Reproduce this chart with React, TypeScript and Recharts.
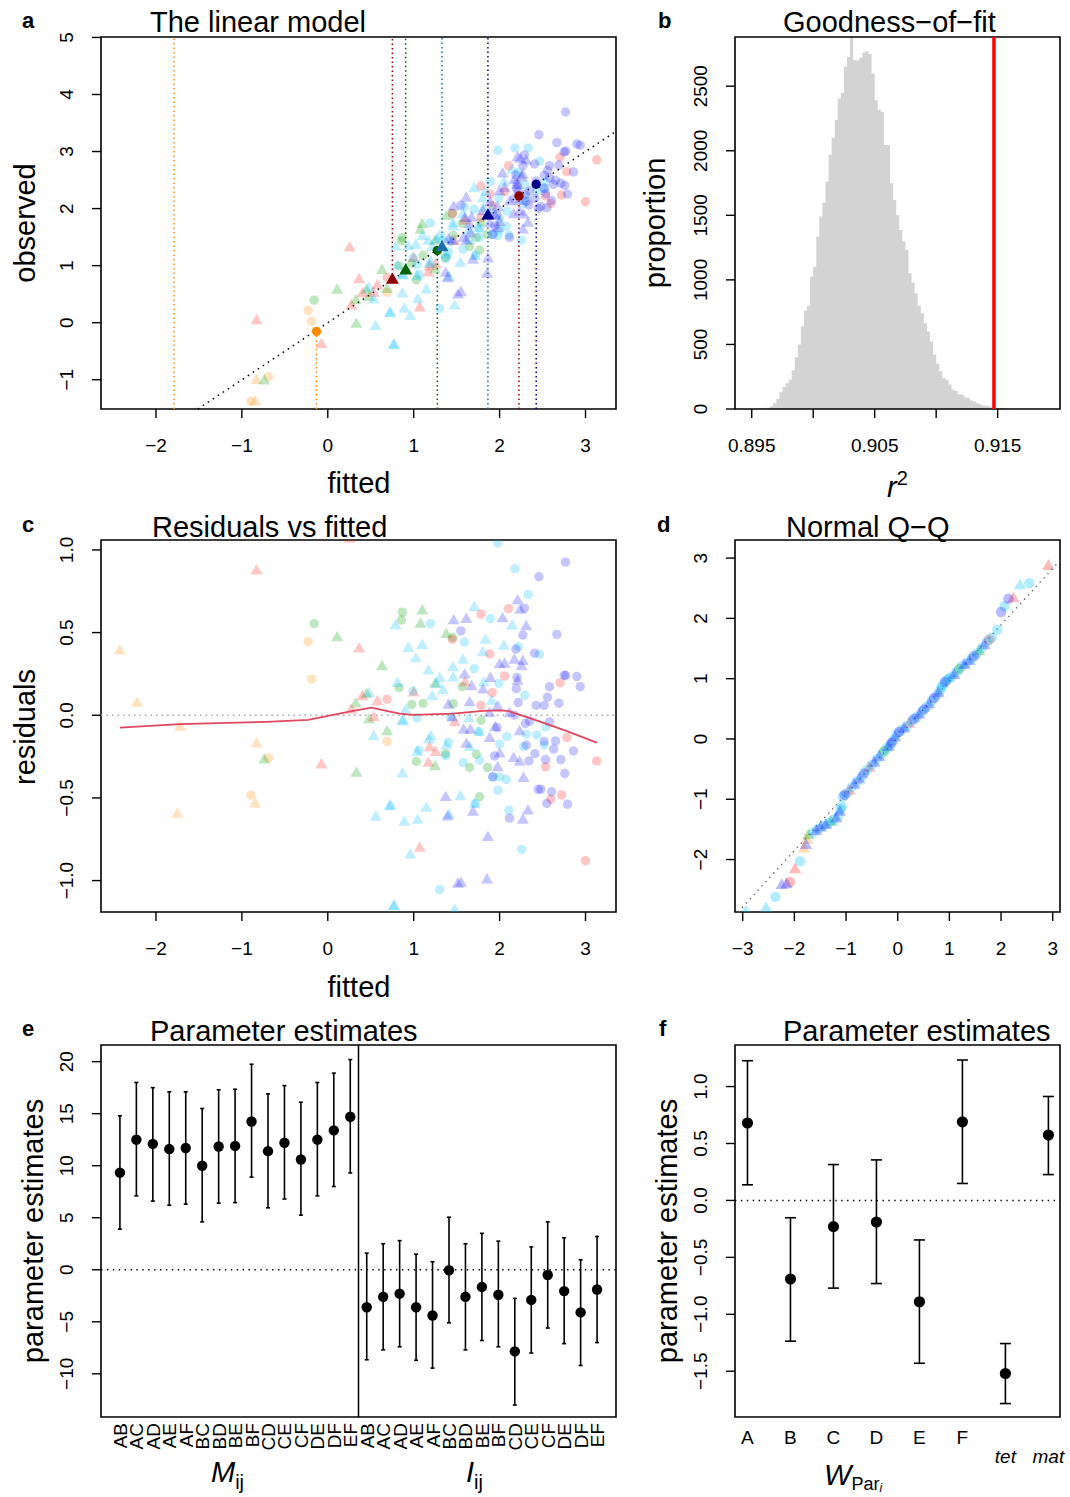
import React from "react";
import {
  ComposedChart,
  Scatter,
  Area,
  XAxis,
  YAxis,
  ReferenceLine,
  ReferenceArea,
  ErrorBar,
} from "recharts";

const FONT = "'Liberation Sans', Arial, Helvetica, sans-serif";

// fitted value, residual, symbol (c = circle, t = triangle) per colour group
const resOrange: any[] = [
  [-0.229, 0.445, "c"], [-0.19, 0.218, "c"], [-0.69, -0.258, "c"], [-0.895, -0.483, "c"], [0.69, -0.159, "c"],
  [-2.42, 0.393, "t"], [-2.22, 0.077, "t"], [-1.72, -0.068, "t"], [-1.75, -0.594, "t"], [-0.83, -0.169, "t"],
  [-0.845, -0.532, "t"],
];
const resGreen: any[] = [
  [-0.159, 0.554, "c"], [0.829, 0.167, "c"], [0.868, 0.624, "c"], [0.857, 0.576, "c"], [1.45, 0.47, "c"],
  [0.977, 0.065, "c"], [1.109, 0.072, "c"], [1.46, 0.07, "c"], [1.031, -0.28, "c"], [1.372, -0.232, "c"],
  [1.566, 0.173, "c"], [1.783, -0.03, "c"], [1.729, -0.236, "c"], [1.651, -0.316, "c"], [1.86, -0.316, "c"],
  [1.767, -0.493, "c"],
  [-0.74, -0.266, "t"], [0.109, 0.473, "t"], [0.333, -0.346, "t"], [0.632, 0.298, "t"], [0.45, 0.131, "t"],
  [0.326, 0.073, "t"], [0.48, -0.024, "t"], [0.69, -0.095, "t"], [1.1, 0.636, "t"], [1.078, 0.556, "t"],
  [1.38, 0.494, "t"], [1.248, 0.193, "t"], [1.248, -0.306, "t"],
];
const resRed: any[] = [
  [-0.83, 0.878, "t"], [0.256, 1.07, "t"], [0.364, 0.405, "t"], [-0.074, -0.296, "t"], [0.403, 0.117, "t"],
  [0.578, 0.087, "t"], [0.275, 0.036, "t"], [0.535, -0.01, "t"], [1.0, 0.14, "t"], [1.186, -0.191, "t"],
  [1.256, -0.22, "t"], [1.171, -0.286, "t"], [1.07, -0.8, "t"], [1.597, 0.201, "t"], [1.477, -0.04, "t"],
  [0.69, 0.097, "c"], [1.45, 0.459, "c"], [2.105, 0.645, "c"], [1.783, 0.612, "c"], [1.887, 0.371, "c"],
  [2.058, 0.237, "c"], [1.915, 0.137, "c"], [1.783, 0.06, "c"], [2.705, 0.197, "c"], [2.783, -0.135, "c"],
  [3.131, -0.276, "c"], [2.535, -0.312, "c"], [2.721, -0.482, "c"], [2.597, -0.508, "c"], [3.0, -0.88, "c"],
];
const resSky: any[] = [
  [0.48, 0.137, "t"], [0.535, -0.125, "t"], [0.558, -0.612, "t"], [0.729, -0.544, "t"], [0.767, -1.152, "t"],
  [0.868, -0.35, "t"], [0.79, 0.546, "t"], [0.81, 0.197, "t"], [0.876, -0.028, "t"], [0.938, 0.409, "t"],
  [1.1, 0.427, "t"], [1.023, 0.346, "t"], [1.171, 0.272, "t"], [1.457, 0.292, "t"], [1.46, 0.23, "t"],
  [1.302, 0.228, "t"], [1.27, 0.193, "t"], [1.341, 0.153, "t"], [1.217, 0.117, "t"], [0.907, 0.036, "t"],
  [0.868, -0.036, "t"], [1.178, -0.145, "t"], [1.2, -0.125, "t"], [1.38, -0.18, "t"], [1.04, -0.22, "t"],
  [0.721, -0.548, "t"], [1.147, -0.558, "t"], [0.891, -0.642, "t"], [1.047, -0.63, "t"], [1.41, -0.6, "t"],
  [0.961, -0.84, "t"], [0.771, -1.152, "t"], [1.477, -1.172, "t"], [1.705, 0.657, "t"], [1.837, 0.459, "t"],
  [2.05, 0.423, "t"], [1.806, 0.383, "t"], [1.574, 0.338, "t"], [1.814, 0.201, "t"], [1.907, 0.089, "t"],
  [1.643, -0.016, "t"], [1.76, -0.099, "t"], [1.65, -0.19, "t"], [1.543, -0.488, "t"], [1.709, -0.534, "t"],
  [2.147, 0.544, "t"],
  [0.992, 0.147, "c"], [1.194, 0.554, "c"], [1.039, -0.016, "c"], [1.43, -0.01, "c"], [1.403, -0.165, "c"],
  [1.062, -0.211, "c"], [1.37, -0.245, "c"], [1.302, -1.055, "c"], [1.98, 1.043, "c"], [2.178, 0.886, "c"],
  [2.333, 0.731, "c"], [1.891, 0.584, "c"], [1.59, 0.443, "c"], [2.217, 0.415, "c"], [1.705, 0.282, "c"],
  [1.992, 0.193, "c"], [2.294, 0.121, "c"], [2.085, -0.129, "c"], [2.31, -0.115, "c"], [2.434, -0.119, "c"],
  [2.0, -0.175, "c"], [1.574, -0.286, "c"], [1.767, -0.272, "c"], [2.28, -0.19, "c"], [1.922, -0.373, "c"],
  [2.0, -0.373, "c"], [2.078, -0.389, "c"], [1.98, -0.453, "c"], [1.72, -0.534, "c"], [2.109, -0.574, "c"],
  [2.256, -0.811, "c"], [2.465, 0.369, "c"], [2.535, -0.071, "c"], [2.52, -0.18, "c"], [1.76, -0.099, "c"],
];
const resBlue: any[] = [
  [1.465, 0.576, "t"], [1.403, 0.065, "t"], [1.45, -0.01, "t"], [1.372, -0.493, "t"], [1.395, -0.61, "t"],
  [1.515, -1.017, "t"], [2.209, 0.697, "t"], [2.24, 0.64, "t"], [2.035, 0.588, "t"], [1.612, 0.584, "t"],
  [2.31, 0.54, "t"], [2.171, 0.338, "t"], [2.058, 0.314, "t"], [2.256, 0.298, "t"], [1.593, 0.248, "t"],
  [1.891, 0.228, "t"], [2.21, 0.21, "t"], [1.674, 0.177, "t"], [1.806, 0.157, "t"], [1.651, 0.08, "t"],
  [1.977, 0.056, "t"], [2.116, 0.016, "t"], [1.88, 0.016, "t"], [1.581, -0.085, "t"], [1.66, -0.085, "t"],
  [1.884, -0.135, "t"], [2.233, -0.095, "t"], [1.613, -0.171, "t"], [2.0, -0.23, "t"], [2.163, -0.256, "t"],
  [2.233, -0.28, "t"], [1.977, -0.312, "t"], [2.279, -0.377, "t"], [1.69, -0.582, "t"], [2.33, -0.574, "t"],
  [2.271, -0.63, "t"], [1.864, -0.735, "t"], [1.853, -0.991, "t"], [1.55, -1.011, "t"], [2.0, 0.31, "t"],
  [2.27, 0.33, "t"], [1.95, -0.07, "t"],
  [2.457, 0.838, "c"], [2.29, 0.648, "c"], [2.271, 0.485, "c"], [1.55, 0.51, "c"], [2.19, 0.4, "c"],
  [2.407, 0.375, "c"], [2.202, 0.228, "c"], [2.194, 0.161, "c"], [2.217, 0.077, "c"], [2.426, 0.06, "c"],
  [2.171, 0.0, "c"], [2.35, -0.036, "c"], [1.969, -0.074, "c"], [1.942, -0.246, "c"], [2.31, -0.18, "c"],
  [2.341, -0.276, "c"], [2.411, -0.232, "c"], [1.92, -0.373, "c"], [2.45, -0.449, "c"], [2.116, -0.622, "c"],
  [2.767, 0.926, "c"], [2.667, 0.489, "c"], [2.752, 0.242, "c"], [2.77, 0.24, "c"], [2.899, 0.234, "c"],
  [2.581, 0.173, "c"], [2.938, 0.173, "c"], [2.558, 0.109, "c"], [2.69, 0.073, "c"], [2.52, 0.06, "c"],
  [2.581, -0.04, "c"], [2.519, -0.159, "c"], [2.651, -0.155, "c"], [2.628, -0.205, "c"], [2.86, -0.216, "c"],
  [2.535, -0.268, "c"], [2.713, -0.268, "c"], [2.759, -0.352, "c"], [2.48, -0.447, "c"], [2.605, -0.463, "c"],
  [2.55, -0.534, "c"], [2.791, -0.538, "c"], [2.3, -0.05, "c"],
];

// highlighted experiments in panel a
const keyFitted = [-0.132, 0.752, 0.907, 1.275, 1.33, 1.864, 2.225, 2.426];
const keyObserved = [-0.152, 0.764, 0.927, 1.265, 1.335, 1.889, 2.22, 2.426];
const keyKind = ["c", "t", "t", "c", "t", "t", "c", "c"];

// dotted guides in panel a: x, lower end, upper end
const guideX = [-1.79, -0.132, 0.752, 0.907, 1.275, 1.33, 1.864, 1.864, 2.225, 2.426];
const guideLo = [-1.513, -1.513, 0.764, 0.927, -1.513, 1.335, 1.889, -1.513, -1.513, -1.513];
const guideHi = [5.008, -0.152, 5.008, 5.008, 1.265, 5.008, 5.008, 1.889, 2.22, 2.426];

// smoother in panel c
const lowessFitted = [-2.419, -1.721, -0.713, -0.229, 0.295, 0.508, 0.682, 0.837, 0.992, 1.457, 1.806, 2.0, 2.097, 2.388, 2.775, 3.132];
const lowessResid = [-0.075, -0.054, -0.04, -0.028, 0.026, 0.046, 0.026, 0.01, 0.002, 0.01, 0.026, 0.03, 0.026, -0.024, -0.095, -0.165];

// panel b: histogram of r^2
const binStart = 0.8955;
const binWidth = 0.00025;
const binCounts = [
  3, 5, 8, 12, 22, 45, 80, 130, 170, 200, 227, 300, 400, 500, 640, 760, 800, 1026, 1100, 1335,
  1490, 1600, 1761, 1967, 2100, 2238, 2405, 2450, 2650, 2727, 2950, 2700, 2700, 2720, 2760, 2770, 2750, 2599, 2392, 2315,
  2300, 2044, 2044, 1748, 1619, 1500, 1387, 1300, 1232, 1052, 980, 897, 800, 742, 665, 600, 523, 420, 350, 292,
  240, 227, 190, 150, 140, 115, 110, 90, 85, 65, 59, 45, 35, 26, 26, 20, 15, 10, 8, 5,
  4, 3, 2,
];
const observedR2 = 0.9147;

// panel d: normal Q-Q (theoretical, sample, group, symbol)
const qqPts: any[] = [
  [-2.935, -2.856, "c", "t"], [-2.548, -2.8, "c", "t"], [-2.368, -2.619, "c", "c"], [-2.245, -2.415, "b", "t"],
  [-2.15, -2.4, "b", "t"], [-2.084, -2.37, "r", "c"], [-1.987, -2.155, "r", "t"], [-1.89, -2.029, "c", "c"],
  [-1.813, -1.808, "o", "t"], [-1.774, -1.753, "b", "t"], [-1.76, -1.67, "o", "t"], [-1.729, -1.588, "g", "t"],
  [-1.632, -1.549, "c", "c"], [-1.535, -1.488, "c", "c"], [-1.439, -1.439, "c", "c"], [-1.342, -1.395, "c", "c"],
  [-1.245, -1.34, "c", "c"], [-1.148, -1.273, "c", "c"], [-1.103, -1.163, "c", "c"], [-1.084, -1.119, "c", "c"],
  [-1.065, -0.954, "c", "c"], [-0.987, -0.899, "c", "c"], [-0.89, -0.799, "c", "c"], [-0.794, -0.706, "c", "c"],
  [-0.697, -0.623, "c", "c"], [-0.6, -0.513, "c", "c"], [-0.503, -0.43, "c", "c"], [-0.406, -0.336, "c", "c"],
  [-0.31, -0.248, "c", "c"], [-0.213, -0.154, "c", "c"], [-0.148, -0.099, "c", "c"], [-0.084, -0.017, "c", "c"],
  [-0.019, 0.083, "c", "c"], [0.077, 0.149, "c", "c"], [0.174, 0.215, "c", "c"], [0.271, 0.298, "c", "c"],
  [0.368, 0.369, "c", "c"], [0.465, 0.452, "c", "c"], [0.561, 0.535, "c", "c"], [0.658, 0.634, "c", "c"],
  [0.755, 0.728, "c", "c"], [0.819, 0.81, "c", "c"], [0.884, 0.91, "c", "c"], [0.948, 0.976, "c", "c"],
  [1.045, 1.031, "c", "c"], [1.142, 1.114, "c", "c"], [1.239, 1.207, "c", "c"], [1.335, 1.262, "c", "c"],
  [1.432, 1.334, "c", "c"], [1.529, 1.417, "c", "c"], [1.626, 1.51, "c", "c"], [1.723, 1.61, "c", "c"],
  [1.819, 1.681, "c", "c"],
  [-1.58, -1.52, "b", "t"], [-1.49, -1.46, "b", "t"], [-1.39, -1.42, "b", "t"], [-1.29, -1.37, "g", "t"],
  [-1.19, -1.31, "b", "t"], [-1.12, -1.2, "b", "t"], [-1.03, -0.93, "b", "c"], [-0.94, -0.85, "r", "t"],
  [-0.84, -0.75, "b", "t"], [-0.745, -0.665, "b", "t"], [-0.65, -0.57, "b", "c"], [-0.55, -0.47, "r", "t"],
  [-0.455, -0.385, "b", "t"], [-0.36, -0.29, "b", "t"], [-0.26, -0.2, "g", "c"], [-0.18, -0.125, "b", "t"],
  [-0.115, -0.06, "b", "c"], [-0.05, 0.035, "b", "t"], [0.03, 0.12, "b", "c"], [0.125, 0.18, "b", "t"],
  [0.22, 0.26, "r", "t"], [0.32, 0.335, "b", "c"], [0.415, 0.41, "b", "t"], [0.51, 0.49, "b", "c"],
  [0.61, 0.585, "b", "t"], [0.705, 0.68, "b", "c"], [0.79, 0.77, "b", "t"], [0.85, 0.86, "c", "c"],
  [0.915, 0.945, "b", "c"], [0.995, 1.005, "c", "c"], [1.09, 1.07, "b", "t"], [1.19, 1.16, "g", "c"],
  [1.29, 1.235, "b", "t"], [1.385, 1.3, "b", "t"], [1.48, 1.375, "b", "c"], [1.58, 1.465, "g", "t"],
  [1.675, 1.56, "b", "t"], [1.77, 1.645, "r", "c"],
  [1.929, 1.814, "c", "c"], [2.0, 2.106, "b", "c"], [2.065, 2.2, "c", "c"], [2.142, 2.326, "b", "c"],
  [2.239, 2.343, "r", "t"], [2.368, 2.558, "c", "t"], [2.548, 2.585, "c", "c"], [2.916, 2.878, "r", "t"],
];

// panel e: M_ij and I_ij estimates with intervals
const pairLabels = ["AB", "AC", "AD", "AE", "AF", "BC", "BD", "BE", "BF", "CD", "CE", "CF", "DE", "DF", "EF"];
const mijEst = [9.33, 12.5, 12.1, 11.6, 11.7, 10.0, 11.85, 11.9, 14.25, 11.4, 12.2, 10.6, 12.5, 13.4, 14.7];
const mijLo = [3.9, 7.1, 6.6, 6.2, 6.3, 4.6, 6.4, 6.45, 8.9, 5.95, 6.8, 5.25, 7.1, 8.0, 9.3];
const mijHi = [14.8, 18.0, 17.5, 17.1, 17.1, 15.5, 17.3, 17.35, 19.75, 16.9, 17.7, 16.1, 18.0, 18.9, 20.2];
const iijEst = [-3.6, -2.6, -2.3, -3.6, -4.4, -0.05, -2.6, -1.65, -2.4, -7.85, -2.9, -0.5, -2.05, -4.1, -1.9];
const iijLo = [-8.65, -7.7, -7.4, -8.7, -9.45, -5.1, -7.7, -6.8, -7.4, -13.0, -8.0, -5.6, -7.1, -9.2, -7.0];
const iijHi = [1.6, 2.5, 2.8, 1.5, 0.77, 5.05, 2.5, 3.5, 2.75, -2.75, 2.2, 4.6, 3.07, 0.96, 3.2];

// panel f: W_Par_i estimates
const wLabels = ["A", "B", "C", "D", "E", "F", "tet", "mat"];
const wEst = [0.68, -0.69, -0.23, -0.19, -0.89, 0.69, -1.52, 0.574];
const wLo = [0.137, -1.236, -0.77, -0.73, -1.43, 0.149, -1.784, 0.227];
const wHi = [1.227, -0.152, 0.315, 0.356, -0.347, 1.233, -1.257, 0.913];

// ---------- styling ----------
const GROUP_COLOR: any = { o: "#FF8C00", g: "#00A000", r: "#FF1A1A", c: "#00BFFF", b: "#1A1AFF" };
const KEY_COLOR = ["#FF8C00", "#8B0000", "#006400", "#006400", "#1F6FA8", "#00008B", "#8B0000", "#00008B"];
const GUIDE_COLOR = ["#FF8C00", "#FF8C00", "#8B0000", "#006400", "#006400", "#1F6FA8", "#00008B", "#1F6FA8", "#8B0000", "#00008B"];

const YW = 70;
const XH = 60;
const TL = { stroke: "#000", strokeWidth: 1.4 };

function marginFor(box: number[], fr: number[]) {
  const [x0, y0, x1, y1] = box;
  const [left, top, w, h] = fr;
  return { top: y0 - top, left: x0 - left - YW, right: left + w - x1, bottom: top + h - y1 - XH };
}

const minus = (s: string) => s.replace("-", "\u2212");
const fmtInt = (v: number) => minus(String(Math.round(v)));
const fmt1 = (v: number) => minus(v.toFixed(1));

const xTick = (fmt: (v: number) => string) => (p: any) => (
  <text x={p.x} y={p.y + 32} textAnchor="middle" fontSize={19} fontFamily={FONT} fill="#000">
    {fmt(p.payload.value)}
  </text>
);
const yTick = (fmt: (v: number) => string) => (p: any) => {
  const bx = p.x - 17;
  return (
    <text x={bx} y={p.y} transform={`rotate(-90 ${bx} ${p.y})`} textAnchor="middle" fontSize={19} fontFamily={FONT} fill="#000">
      {fmt(p.payload.value)}
    </text>
  );
};

const makeMark = (r: number, tw: number, op: number) => (p: any) => {
  const { cx, cy, fill, payload } = p;
  if (cx == null || cy == null) return <g />;
  if (payload.k === "t") {
    const pts = `${cx},${cy - tw * 1.02} ${cx - tw},${cy + tw * 0.72} ${cx + tw},${cy + tw * 0.72}`;
    return <polygon points={pts} fill={fill} fillOpacity={op} />;
  }
  return <circle cx={cx} cy={cy} r={r} fill={fill} fillOpacity={op} />;
};
const softMark = makeMark(4.7, 6, 0.25);
const qqMark = makeMark(5.2, 6.2, 0.3);
const keyMark = makeMark(4.7, 6.5, 1);
const blackDot = (r: number) => (p: any) => <circle cx={p.cx} cy={p.cy} r={r} fill="#000" />;

function Box({ xd, yd }: any) {
  return (
    <ReferenceArea x1={xd[0]} x2={xd[1]} y1={yd[0]} y2={yd[1]} fill="none" stroke="#000" strokeWidth={1.6} ifOverflow="visible" />
  );
}

const groups: any[] = [
  ["o", resOrange],
  ["g", resGreen],
  ["r", resRed],
  ["c", resSky],
  ["b", resBlue],
];

// ---------- panels ----------
const AX = [-2.64, 3.355];
const AY = [-1.513, 5.008];

function PanelA() {
  const fr = [0, 0, 640, 500];
  const keyData = keyFitted.map((f, i) => ({ x: f, y: keyObserved[i], k: keyKind[i] }));
  return (
    <div style={{ position: "absolute", left: fr[0], top: fr[1] }}>
      <ComposedChart width={fr[2]} height={fr[3]} margin={marginFor([101, 37, 616, 409], fr)}>
        <XAxis type="number" dataKey="x" domain={AX} allowDataOverflow ticks={[-2, -1, 0, 1, 2, 3]} interval={0}
          axisLine={false} tickLine={TL} tickSize={9} tickMargin={2} height={XH} tick={xTick(fmtInt)} />
        <YAxis type="number" dataKey="y" domain={AY} allowDataOverflow ticks={[-1, 0, 1, 2, 3, 4, 5]} interval={0}
          axisLine={false} tickLine={TL} tickSize={9} tickMargin={2} width={YW} tick={yTick(fmtInt)} />
        {guideX.map((gx, i) => (
          <ReferenceLine key={`g${i}`} segment={[{ x: gx, y: guideLo[i] }, { x: gx, y: guideHi[i] }]}
            stroke={GUIDE_COLOR[i]} strokeWidth={1.5} strokeDasharray="1.5 3" ifOverflow="visible" />
        ))}
        <ReferenceLine segment={[{ x: -1.513, y: -1.513 }, { x: 3.355, y: 3.355 }]} stroke="#000" strokeWidth={1.5}
          strokeDasharray="1.5 4.5" ifOverflow="visible" />
        {groups.map(([g, pts]) => (
          <Scatter key={g} data={pts.map((d: any) => ({ x: d[0], y: d[0] + d[1], k: d[2] }))} fill={GROUP_COLOR[g]}
            shape={softMark} isAnimationActive={false} />
        ))}
        {keyData.map((d, i) => (
          <Scatter key={`k${i}`} data={[d]} fill={KEY_COLOR[i]} shape={keyMark} isAnimationActive={false} />
        ))}
        <Box xd={AX} yd={AY} />
      </ComposedChart>
    </div>
  );
}

const BX = [0.89364, 0.92007];
const BY = [0, 2881];

function PanelB() {
  const fr = [640, 0, 430, 500];
  const hist = binCounts.map((n, i) => ({ x: binStart + i * binWidth, y: n }));
  hist.push({ x: binStart + binCounts.length * binWidth, y: 0 });
  const lab = (v: number) => (Math.round(v * 1000) % 10 === 5 ? v.toFixed(3) : "");
  return (
    <div style={{ position: "absolute", left: fr[0], top: fr[1] }}>
      <ComposedChart width={fr[2]} height={fr[3]} data={hist} margin={marginFor([735, 37, 1060, 409], fr)}>
        <XAxis type="number" dataKey="x" domain={BX} allowDataOverflow ticks={[0.895, 0.9, 0.905, 0.91, 0.915]} interval={0}
          axisLine={false} tickLine={TL} tickSize={9} tickMargin={2} height={XH} tick={xTick(lab)} />
        <YAxis type="number" dataKey="y" domain={BY} allowDataOverflow ticks={[0, 500, 1000, 1500, 2000, 2500]} interval={0}
          axisLine={false} tickLine={TL} tickSize={9} tickMargin={2} width={YW} tick={yTick(fmtInt)} />
        <Area type="stepAfter" dataKey="y" fill="#D3D3D3" fillOpacity={1} stroke="none" isAnimationActive={false} />
        <ReferenceLine x={observedR2} stroke="#FF0000" strokeWidth={3.5} />
        <Box xd={BX} yd={BY} />
      </ComposedChart>
    </div>
  );
}

const CY = [-1.19, 1.06];

function PanelC() {
  const fr = [0, 500, 640, 500];
  const smooth = lowessFitted.map((f, i) => ({ x: f, y: lowessResid[i] }));
  return (
    <div style={{ position: "absolute", left: fr[0], top: fr[1] }}>
      <ComposedChart width={fr[2]} height={fr[3]} margin={marginFor([101, 540, 616, 912], fr)}>
        <XAxis type="number" dataKey="x" domain={AX} allowDataOverflow ticks={[-2, -1, 0, 1, 2, 3]} interval={0}
          axisLine={false} tickLine={TL} tickSize={9} tickMargin={2} height={XH} tick={xTick(fmtInt)} />
        <YAxis type="number" dataKey="y" domain={CY} allowDataOverflow ticks={[-1, -0.5, 0, 0.5, 1]} interval={0}
          axisLine={false} tickLine={TL} tickSize={9} tickMargin={2} width={YW} tick={yTick(fmt1)} />
        <ReferenceLine y={0} stroke="#AAAAAA" strokeWidth={1.5} strokeDasharray="1.5 4" />
        {groups.map(([g, pts]) => (
          <Scatter key={g} data={pts.map((d: any) => ({ x: d[0], y: d[1], k: d[2] }))} fill={GROUP_COLOR[g]}
            shape={softMark} isAnimationActive={false} />
        ))}
        <Scatter data={smooth} line={{ stroke: "#E0475F", strokeWidth: 1.8 }} shape={() => <g />} isAnimationActive={false} />
        <Box xd={AX} yd={CY} />
      </ComposedChart>
    </div>
  );
}

const DX = [-3.149, 3.141];
const DY = [-2.87, 3.3];

function PanelD() {
  const fr = [640, 500, 430, 500];
  const keys = ["o", "g", "r", "c", "b"];
  return (
    <div style={{ position: "absolute", left: fr[0], top: fr[1] }}>
      <ComposedChart width={fr[2]} height={fr[3]} margin={marginFor([735, 540, 1060, 912], fr)}>
        <XAxis type="number" dataKey="x" domain={DX} allowDataOverflow ticks={[-3, -2, -1, 0, 1, 2, 3]} interval={0}
          axisLine={false} tickLine={TL} tickSize={9} tickMargin={2} height={XH} tick={xTick(fmtInt)} />
        <YAxis type="number" dataKey="y" domain={DY} allowDataOverflow ticks={[-2, -1, 0, 1, 2, 3]} interval={0}
          axisLine={false} tickLine={TL} tickSize={9} tickMargin={2} width={YW} tick={yTick(fmtInt)} />
        <ReferenceLine segment={[{ x: -3.088, y: -2.87 }, { x: 3.141, y: 2.96 }]} stroke="#555" strokeWidth={1.3}
          strokeDasharray="1.3 4.5" ifOverflow="visible" />
        {keys.map((g) => (
          <Scatter key={g} data={qqPts.filter((d) => d[2] === g).map((d) => ({ x: d[0], y: d[1], k: d[3] }))}
            fill={GROUP_COLOR[g]} shape={qqMark} isAnimationActive={false} />
        ))}
        <Box xd={DX} yd={DY} />
      </ComposedChart>
    </div>
  );
}

const EX = [-1.15, 30.15];
const EY = [-14.15, 21.6];

function PanelE() {
  const fr = [0, 1000, 640, 497];
  const est = [...mijEst, ...iijEst];
  const lo = [...mijLo, ...iijLo];
  const hi = [...mijHi, ...iijHi];
  const labels = [...pairLabels, ...pairLabels];
  const data = est.map((v, i) => ({ x: i, y: v, err: [v - lo[i], hi[i] - v] }));
  const tick = (p: any) => {
    const bx = p.x + 7;
    const ty = p.y + 6;
    return (
      <text x={bx} y={ty} transform={`rotate(-90 ${bx} ${ty})`} textAnchor="end" fontSize={19} fontFamily={FONT} fill="#000">
        {labels[Math.round(p.payload.value)]}
      </text>
    );
  };
  return (
    <div style={{ position: "absolute", left: fr[0], top: fr[1] }}>
      <ComposedChart width={fr[2]} height={fr[3]} margin={marginFor([101, 1045, 616, 1417], fr)}>
        <XAxis type="number" dataKey="x" domain={EX} allowDataOverflow ticks={labels.map((_, i) => i)} interval={0}
          axisLine={false} tickLine={false} tickSize={0} tickMargin={0} height={XH} tick={tick} />
        <YAxis type="number" dataKey="y" domain={EY} allowDataOverflow ticks={[-10, -5, 0, 5, 10, 15, 20]} interval={0}
          axisLine={false} tickLine={TL} tickSize={9} tickMargin={2} width={YW} tick={yTick(fmtInt)} />
        <ReferenceLine y={0} stroke="#000" strokeWidth={1.4} strokeDasharray="1.4 4.5" />
        <ReferenceLine x={14.5} stroke="#000" strokeWidth={1.5} />
        <Scatter data={data} fill="#000" shape={blackDot(5.2)} isAnimationActive={false}>
          <ErrorBar dataKey="err" direction="y" width={2} stroke="#000" strokeWidth={1.6} />
        </Scatter>
        <Box xd={EX} yd={EY} />
      </ComposedChart>
    </div>
  );
}

const FX = [-0.29, 7.27];
const FY = [-1.902, 1.365];

function PanelF() {
  const fr = [640, 1000, 430, 497];
  const data = wEst.map((v, i) => ({ x: i, y: v, err: [v - wLo[i], wHi[i] - v] }));
  const tick = (p: any) => {
    const i = Math.round(p.payload.value);
    const it = i >= 6;
    return (
      <text x={p.x} y={p.y + (it ? 46 : 27)} textAnchor="middle" fontSize={19} fontFamily={FONT}
        fontStyle={it ? "italic" : "normal"} fill="#000">
        {wLabels[i]}
      </text>
    );
  };
  return (
    <div style={{ position: "absolute", left: fr[0], top: fr[1] }}>
      <ComposedChart width={fr[2]} height={fr[3]} margin={marginFor([735, 1045, 1060, 1417], fr)}>
        <XAxis type="number" dataKey="x" domain={FX} allowDataOverflow ticks={wLabels.map((_, i) => i)} interval={0}
          axisLine={false} tickLine={false} tickSize={0} tickMargin={0} height={XH} tick={tick} />
        <YAxis type="number" dataKey="y" domain={FY} allowDataOverflow ticks={[-1.5, -1, -0.5, 0, 0.5, 1]} interval={0}
          axisLine={false} tickLine={TL} tickSize={9} tickMargin={2} width={YW} tick={yTick(fmt1)} />
        <ReferenceLine y={0} stroke="#000" strokeWidth={1.4} strokeDasharray="1.4 4.5" />
        <Scatter data={data} fill="#000" shape={blackDot(5.6)} isAnimationActive={false}>
          <ErrorBar dataKey="err" direction="y" width={5.5} stroke="#000" strokeWidth={1.6} />
        </Scatter>
        <Box xd={FX} yd={FY} />
      </ComposedChart>
    </div>
  );
}

function Labels() {
  const t = { fontFamily: FONT, fill: "#000" } as any;
  const vt = (x: number, y: number, s: string) => (
    <text x={x} y={y} transform={`rotate(-90 ${x} ${y})`} textAnchor="middle" fontSize={29} {...t}>{s}</text>
  );
  return (
    <svg width={1070} height={1497} style={{ position: "absolute", left: 0, top: 0, pointerEvents: "none" }}>
      <g fontWeight="bold" fontSize={22} {...t}>
        <text x={22} y={28}>a</text>
        <text x={658} y={28}>b</text>
        <text x={22} y={532}>c</text>
        <text x={657} y={532}>d</text>
        <text x={22} y={1036}>e</text>
        <text x={659} y={1036}>f</text>
      </g>
      <g fontSize={29} {...t}>
        <text x={150} y={32}>The linear model</text>
        <text x={783} y={32}>Goodness{"\u2212"}of{"\u2212"}fit</text>
        <text x={152} y={537}>Residuals vs fitted</text>
        <text x={786} y={537}>Normal Q{"\u2212"}Q</text>
        <text x={150} y={1041}>Parameter estimates</text>
        <text x={783} y={1041}>Parameter estimates</text>
        <text x={359} y={493} textAnchor="middle">fitted</text>
        <text x={359} y={997} textAnchor="middle">fitted</text>
        <text x={887} y={497} fontStyle="italic">
          r<tspan fontSize={20} dy={-12} fontStyle="normal">2</tspan>
        </text>
        <text x={211} y={1482} fontStyle="italic">
          M<tspan fontSize={20} dy={7} fontStyle="normal">ij</tspan>
        </text>
        <text x={466} y={1482} fontStyle="italic">
          I<tspan fontSize={20} dy={7} fontStyle="normal">ij</tspan>
        </text>
        <text x={824} y={1485} fontStyle="italic">
          W<tspan fontSize={18} dy={5} fontStyle="normal">Par</tspan>
          <tspan fontSize={12} dy={2}>i</tspan>
        </text>
      </g>
      {vt(35, 223, "observed")}
      {vt(665, 223, "proportion")}
      {vt(35, 727, "residuals")}
      {vt(43, 1231, "parameter estimates")}
      {vt(677, 1231, "parameter estimates")}
    </svg>
  );
}

export default function App() {
  return (
    <div style={{ position: "absolute", left: 0, top: 0, width: 1070, height: 1497, background: "#fff", fontFamily: FONT }}>
      <PanelA />
      <PanelB />
      <PanelC />
      <PanelD />
      <PanelE />
      <PanelF />
      <Labels />
    </div>
  );
}
